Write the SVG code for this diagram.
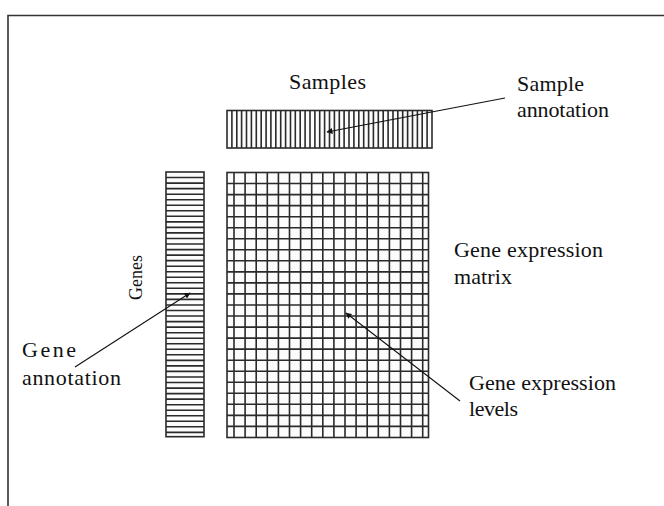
<svg xmlns="http://www.w3.org/2000/svg" width="664" height="506" viewBox="0 0 664 506">
<defs>
<style>
.lbl{font-family:"Liberation Serif","Times New Roman",serif;font-size:22px;fill:#111}
.box{fill:#fcfcfc;stroke:#2a2a2a;stroke-width:1.6}
.ln{fill:none;stroke:#2a2a2a;stroke-width:1.6}
.arr{fill:none;stroke:#111;stroke-width:1.1;marker-end:url(#ah)}
</style>
<marker id="ah" viewBox="0 0 10 10" refX="9" refY="5" markerWidth="7" markerHeight="6" markerUnits="userSpaceOnUse" orient="auto">
<path d="M0 0L10 5L0 10z" fill="#111"/>
</marker>
</defs>
<rect x="0" y="0" width="664" height="506" fill="#fff"/>
<path d="M8 520V15.5H680" fill="none" stroke="#333" stroke-width="1.6"/>

<g id="sample-annotation">
<rect class="box" x="227" y="110.5" width="205" height="37.5"/>
<path class="ln" d="M231.9 110.5v37.5M236.8 110.5v37.5M241.6 110.5v37.5M246.5 110.5v37.5M251.4 110.5v37.5M256.3 110.5v37.5M261.2 110.5v37.5M266.1 110.5v37.5M270.9 110.5v37.5M275.8 110.5v37.5M280.7 110.5v37.5M285.6 110.5v37.5M290.5 110.5v37.5M295.3 110.5v37.5M300.2 110.5v37.5M305.1 110.5v37.5M310 110.5v37.5M314.9 110.5v37.5M319.7 110.5v37.5M324.6 110.5v37.5M329.5 110.5v37.5M334.4 110.5v37.5M339.3 110.5v37.5M344.1 110.5v37.5M349 110.5v37.5M353.9 110.5v37.5M358.8 110.5v37.5M363.7 110.5v37.5M368.6 110.5v37.5M373.4 110.5v37.5M378.3 110.5v37.5M383.2 110.5v37.5M388.1 110.5v37.5M393 110.5v37.5M397.8 110.5v37.5M402.7 110.5v37.5M407.6 110.5v37.5M412.5 110.5v37.5M417.4 110.5v37.5M422.2 110.5v37.5M427.1 110.5v37.5"/>
</g>

<g id="gene-annotation">
<rect class="box" x="166" y="172" width="38" height="264.7"/>
<path class="ln" d="M166 177.5h38M166 183.1h38M166 188.6h38M166 194.2h38M166 199.7h38M166 205.2h38M166 210.8h38M166 216.3h38M166 221.9h38M166 227.4h38M166 232.9h38M166 238.5h38M166 244h38M166 249.6h38M166 255.1h38M166 260.6h38M166 266.2h38M166 271.7h38M166 277.3h38M166 282.8h38M166 288.3h38M166 293.9h38M166 299.4h38M166 305h38M166 310.5h38M166 316h38M166 321.6h38M166 327.1h38M166 332.7h38M166 338.2h38M166 343.7h38M166 349.3h38M166 354.8h38M166 360.4h38M166 365.9h38M166 371.4h38M166 377h38M166 382.5h38M166 388.1h38M166 393.6h38M166 399.1h38M166 404.7h38M166 410.2h38M166 415.8h38M166 421.3h38M166 426.8h38M166 432.4h38"/>
</g>

<g id="expression-matrix">
<rect class="box" x="227" y="172.5" width="201.5" height="265"/>
<path class="ln" d="M234 172.5v265M245.1 172.5v265M256.2 172.5v265M267.3 172.5v265M278.4 172.5v265M289.5 172.5v265M300.6 172.5v265M311.7 172.5v265M322.8 172.5v265M333.9 172.5v265M345 172.5v265M356.1 172.5v265M367.2 172.5v265M378.3 172.5v265M389.4 172.5v265M400.5 172.5v265M411.6 172.5v265M422.7 172.5v265"/>
<path class="ln" d="M227 183.5h201.5M227 194.6h201.5M227 205.6h201.5M227 216.7h201.5M227 227.7h201.5M227 238.7h201.5M227 249.8h201.5M227 260.8h201.5M227 271.9h201.5M227 282.9h201.5M227 293.9h201.5M227 305h201.5M227 316h201.5M227 327.1h201.5M227 338.1h201.5M227 349.1h201.5M227 360.2h201.5M227 371.2h201.5M227 382.3h201.5M227 393.3h201.5M227 404.3h201.5M227 415.4h201.5M227 426.4h201.5"/>
</g>

<g id="labels">
<text class="lbl" x="289" y="89" textLength="77">Samples</text>
<text class="lbl" x="517" y="91" textLength="67">Sample</text>
<text class="lbl" x="517" y="117" textLength="92">annotation</text>
<text class="lbl" x="454" y="257" textLength="149">Gene expression</text>
<text class="lbl" x="454" y="284" textLength="58">matrix</text>
<text class="lbl" x="469" y="390" textLength="147">Gene expression</text>
<text class="lbl" x="469" y="416" textLength="49">levels</text>
<text class="lbl" x="22" y="357" textLength="54">Gene</text>
<text class="lbl" x="22" y="385" textLength="99">annotation</text>
<text class="lbl" x="142" y="300" textLength="45" style="font-size:18px" transform="rotate(-90 142 300)">Genes</text>
</g>

<g id="connectors">
<path class="arr" d="M505 98L327 132"/>
<path class="arr" d="M460 401L346 313"/>
<path class="arr" d="M75 367L190 293"/>
</g>
</svg>
